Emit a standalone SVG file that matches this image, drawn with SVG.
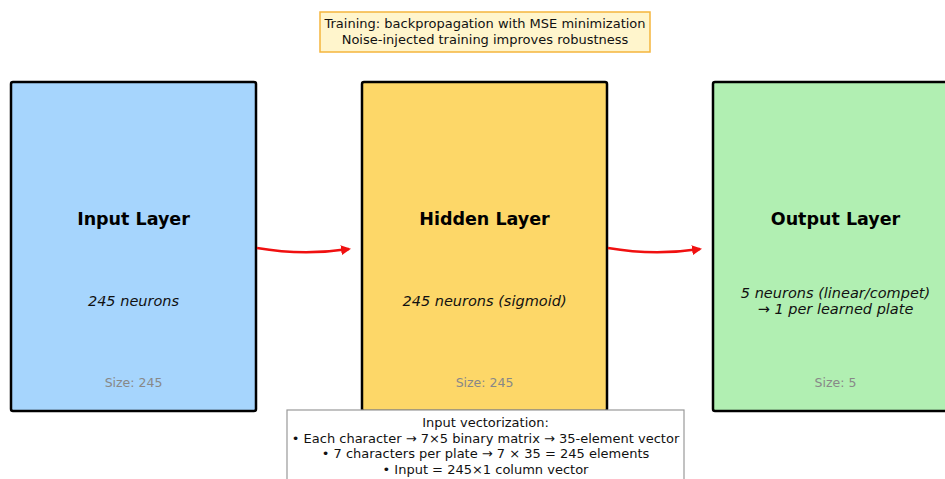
<svg xmlns="http://www.w3.org/2000/svg" width="945" height="479" viewBox="0 0 945 479">
<defs>
<style>
.layer{stroke:#000;stroke-width:2.5}
.title{font-family:"DejaVu Sans",sans-serif;font-weight:bold;font-size:17.5px;text-anchor:middle;fill:#000}
.desc{font-family:"DejaVu Sans",sans-serif;font-style:italic;font-size:14.5px;text-anchor:middle;fill:#111}
.size{font-family:"DejaVu Sans",sans-serif;font-size:12.5px;text-anchor:middle;fill:#888}
.note{font-family:"DejaVu Sans",sans-serif;font-size:13px;text-anchor:middle;fill:#111}
.conn{fill:none;stroke:#f01010;stroke-width:2.5}
</style>
<marker id="ah" viewBox="0 0 10 10" refX="8" refY="5" markerWidth="4" markerHeight="4" orient="auto" markerUnits="strokeWidth">
<path d="M0,0 L10,5 L0,10 z" fill="#f01010"/>
</marker>
</defs>
<rect width="945" height="479" fill="#fff"/>
<g id="training-note">
<rect x="320" y="12" width="330" height="40" fill="#fff5cc" stroke="#f5b53d" stroke-width="1.5"/>
<text class="note" x="485" y="28">Training: backpropagation with MSE minimization</text>
<text class="note" x="485" y="44">Noise-injected training improves robustness</text>
</g>
<g id="input-layer">
<rect class="layer" x="11" y="82" width="245" height="329" rx="2" fill="#a6d5fd"/>
<text class="title" x="133.5" y="225">Input Layer</text>
<text class="desc" x="133.5" y="306">245 neurons</text>
<text class="size" x="133.5" y="387">Size: 245</text>
</g>
<g id="hidden-layer">
<rect class="layer" x="362" y="82" width="245" height="329" rx="2" fill="#fdd768"/>
<text class="title" x="484.5" y="225">Hidden Layer</text>
<text class="desc" x="484.5" y="306">245 neurons (sigmoid)</text>
<text class="size" x="484.5" y="387">Size: 245</text>
</g>
<g id="output-layer">
<rect class="layer" x="713" y="82" width="245" height="329" rx="2" fill="#b1efb2"/>
<text class="title" x="835.5" y="225">Output Layer</text>
<text class="desc" x="835.5" y="298">5 neurons (linear/compet)</text>
<text class="desc" x="835.5" y="314">→ 1 per learned plate</text>
<text class="size" x="835.5" y="387">Size: 5</text>
</g>
<g id="connectors">
<path class="conn" d="M257,248 Q303,256 349,249" marker-end="url(#ah)"/>
<path class="conn" d="M608,248 Q654,256 700,249" marker-end="url(#ah)"/>
</g>
<g id="vectorization-note">
<rect x="287" y="410" width="397" height="80" fill="#fff" stroke="#999" stroke-width="1.2"/>
<text class="note" x="485.5" y="427">Input vectorization:</text>
<text class="note" x="485.5" y="442.5">• Each character → 7×5 binary matrix → 35-element vector</text>
<text class="note" x="485.5" y="458">• 7 characters per plate → 7 × 35 = 245 elements</text>
<text class="note" x="485.5" y="473.5">• Input = 245×1 column vector</text>
</g>
</svg>
